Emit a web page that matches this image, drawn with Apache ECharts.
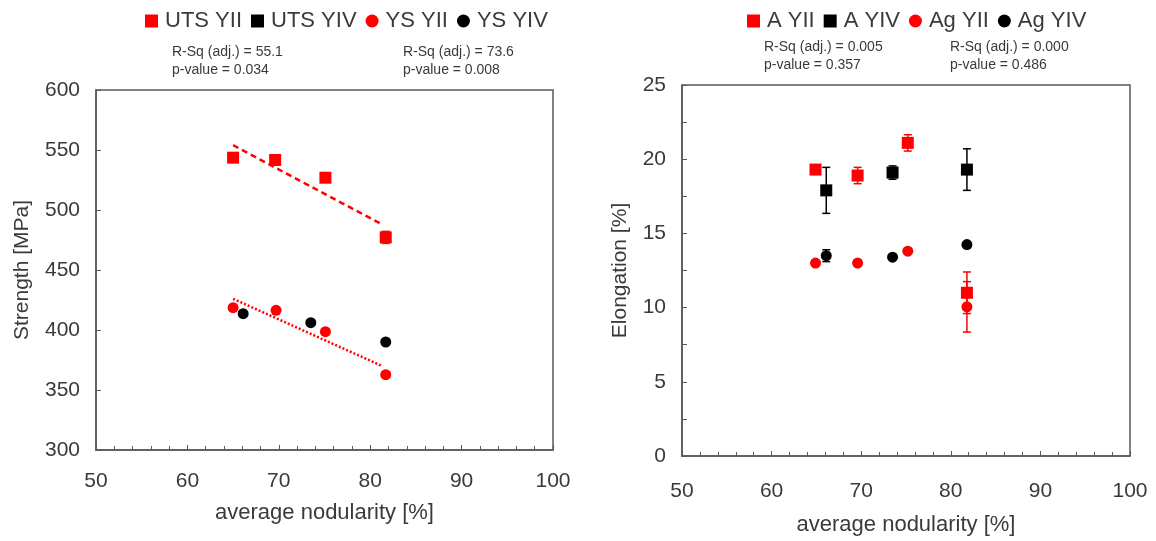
<!DOCTYPE html>
<html>
<head>
<meta charset="utf-8">
<script src="https://cdn.jsdelivr.net/npm/echarts@6/dist/echarts.min.js"></script>
<style>
  html, body { margin: 0; padding: 0; background: #fff; }
  #chart { width: 1156px; height: 541px; }
</style>
</head>
<body>
<div id="chart"></div>
<script>
// left panel: strength
const utsYII = [[65.0, 543.6], [69.6, 541.7], [75.1, 526.9], [81.7, 477.2]]
const utsYIIErr = [0, 4, 0, 5]
const utsYIV = []
const ysYII = [[65.0, 418.6], [69.7, 416.4], [75.1, 398.6], [81.7, 362.8]]
const ysYIV = [[66.1, 413.6], [73.5, 406.1], [81.7, 390.0]]
const utsTrend = [[65.0, 554], [81.3, 488]]
const ysTrend = [[65.0, 426], [81.3, 370]]

// right panel: elongation
const aYII = [[64.9, 19.3], [69.6, 18.9], [75.2, 21.1], [81.8, 11.0]]
const aYIIErr = [0, 0.55, 0.55, 1.4]
const aYIV = [[66.1, 17.9], [73.5, 19.1], [81.8, 19.3]]
const aYIVErr = [1.55, 0.45, 1.4]
const agYII = [[64.9, 13.0], [69.6, 13.0], [75.2, 13.8], [81.8, 10.05]]
const agYIIErr = [0, 0, 0, 1.7]
const agYIV = [[66.1, 13.5], [73.5, 13.4], [81.8, 14.25]]
const agYIVErr = [0.4, 0, 0]

const stats = [
    ['R-Sq (adj.) = 55.1', 'p-value = 0.034'],
    ['R-Sq (adj.) = 73.6', 'p-value = 0.008'],
    ['R-Sq (adj.) = 0.005', 'p-value = 0.357'],
    ['R-Sq (adj.) = 0.000', 'p-value = 0.486']
]

const RED = '#ff0000'
const BLACK = '#000000'
const AXIS = '#595959'
const TXT = '#3a3a3a'
const FONT = 'Liberation Sans, Arial, sans-serif'

function withErr (pts, errs) {
    return pts.map((p, i) => [p[0], p[1], errs[i]]).filter(d => d[2] > 0)
}

function errorBar (params, api) {
    const x = api.value(0)
    const y = api.value(1)
    const e = api.value(2)
    const top = api.coord([x, y + e])
    const bot = api.coord([x, y - e])
    const hw = 4
    const style = { stroke: api.visual('color'), lineWidth: 1.5 }
    return {
        type: 'group',
        children: [
            { type: 'line', shape: { x1: top[0], y1: top[1], x2: bot[0], y2: bot[1] }, style },
            { type: 'line', shape: { x1: top[0] - hw, y1: top[1], x2: top[0] + hw, y2: top[1] }, style },
            { type: 'line', shape: { x1: bot[0] - hw, y1: bot[1], x2: bot[0] + hw, y2: bot[1] }, style }
        ]
    }
}

function errSeries (idx, pts, errs, color) {
    return {
        type: 'custom',
        xAxisIndex: idx,
        yAxisIndex: idx,
        renderItem: errorBar,
        itemStyle: { color },
        data: withErr(pts, errs),
        z: 1,
        silent: true
    }
}

function scatter (idx, name, pts, symbol, size, color) {
    return {
        name,
        type: 'scatter',
        xAxisIndex: idx,
        yAxisIndex: idx,
        symbol,
        symbolSize: size,
        itemStyle: { color, opacity: 1 },
        data: pts,
        z: 3
    }
}

function trend (idx, pts, type) {
    return {
        type: 'line',
        xAxisIndex: idx,
        yAxisIndex: idx,
        data: pts,
        symbol: 'none',
        lineStyle: { color: RED, width: 2.5, type },
        z: 2,
        silent: true
    }
}

function xAxis (idx, nameGap, margin) {
    return {
        type: 'value',
        gridIndex: idx,
        min: 50,
        max: 100,
        interval: 10,
        name: 'average nodularity [%]',
        nameLocation: 'middle',
        nameGap,
        nameTextStyle: { fontSize: 22, color: TXT, fontFamily: FONT },
        axisLine: { lineStyle: { color: AXIS, width: 1.5 } },
        axisTick: { inside: true, length: 5, lineStyle: { color: AXIS } },
        minorTick: { show: true, splitNumber: 5, length: 4, lineStyle: { color: AXIS } },
        axisLabel: { fontSize: 21, color: TXT, fontFamily: FONT, margin },
        splitLine: { show: false }
    }
}

function statText (x, y, lines) {
    return {
        type: 'text',
        left: x,
        top: y,
        style: {
            text: lines.join('\n'),
            font: '14px ' + FONT,
            fill: TXT,
            lineHeight: 18
        }
    }
}

function legend (left, names) {
    return {
        left,
        top: 5,
        itemWidth: 13,
        itemHeight: 13,
        itemGap: 9,
        textStyle: { fontSize: 22, color: TXT, fontFamily: FONT, padding: [0, 0, 0, 2] },
        data: names
    }
}

const chart = echarts.init(document.getElementById('chart'))

chart.setOption({
    backgroundColor: '#fff',
    animation: false,
    legend: [
        legend(140, [
            { name: 'UTS YII', icon: 'rect' },
            { name: 'UTS YIV', icon: 'rect' },
            { name: 'YS YII', icon: 'circle' },
            { name: 'YS YIV', icon: 'circle' }
        ]),
        legend(742, [
            { name: 'A YII', icon: 'rect' },
            { name: 'A YIV', icon: 'rect' },
            { name: 'Ag YII', icon: 'circle' },
            { name: 'Ag YIV', icon: 'circle' }
        ])
    ],
    grid: [
        { left: 96, top: 90, width: 457, height: 360, show: true, borderColor: AXIS, borderWidth: 1.5 },
        { left: 682, top: 85, width: 448, height: 378, show: true, borderColor: AXIS, borderWidth: 1.5 }
    ],
    xAxis: [xAxis(0, 52, 21), xAxis(1, 58, 25)],
    yAxis: [
        {
            type: 'value',
            gridIndex: 0,
            min: 300,
            max: 600,
            interval: 50,
            name: 'Strength [MPa]',
            nameLocation: 'middle',
            nameGap: 63,
            nameTextStyle: { fontSize: 21, color: TXT, fontFamily: FONT },
            axisLine: { lineStyle: { color: AXIS, width: 1.5 } },
            axisTick: { inside: true, length: 5, lineStyle: { color: AXIS } },
            axisLabel: { fontSize: 21, color: TXT, fontFamily: FONT, margin: 16 },
            splitLine: { show: false }
        },
        {
            type: 'value',
            gridIndex: 1,
            min: 0,
            max: 25,
            interval: 5,
            name: 'Elongation [%]',
            nameLocation: 'middle',
            nameGap: 51,
            nameTextStyle: { fontSize: 21, color: TXT, fontFamily: FONT },
            axisLine: { lineStyle: { color: AXIS, width: 1.5 } },
            axisTick: { inside: true, length: 5, lineStyle: { color: AXIS } },
            minorTick: { show: true, splitNumber: 2, length: 5, lineStyle: { color: AXIS } },
            axisLabel: { fontSize: 21, color: TXT, fontFamily: FONT, margin: 16 },
            splitLine: { show: false }
        }
    ],
    graphic: [
        statText(172, 43, stats[0]),
        statText(403, 43, stats[1]),
        statText(764, 38, stats[2]),
        statText(950, 38, stats[3])
    ],
    series: [
        trend(0, utsTrend, [6, 4]),
        trend(0, ysTrend, [2, 2]),
        errSeries(0, utsYII, utsYIIErr, RED),
        scatter(0, 'UTS YII', utsYII, 'rect', 12, RED),
        scatter(0, 'UTS YIV', utsYIV, 'rect', 12, BLACK),
        scatter(0, 'YS YII', ysYII, 'circle', 11, RED),
        scatter(0, 'YS YIV', ysYIV, 'circle', 11, BLACK),

        errSeries(1, aYII, aYIIErr, RED),
        errSeries(1, aYIV, aYIVErr, BLACK),
        errSeries(1, agYII, agYIIErr, RED),
        errSeries(1, agYIV, agYIVErr, BLACK),
        scatter(1, 'A YII', aYII, 'rect', 12, RED),
        scatter(1, 'A YIV', aYIV, 'rect', 12, BLACK),
        scatter(1, 'Ag YII', agYII, 'circle', 11, RED),
        scatter(1, 'Ag YIV', agYIV, 'circle', 11, BLACK)
    ]
})
</script>
</body>
</html>
